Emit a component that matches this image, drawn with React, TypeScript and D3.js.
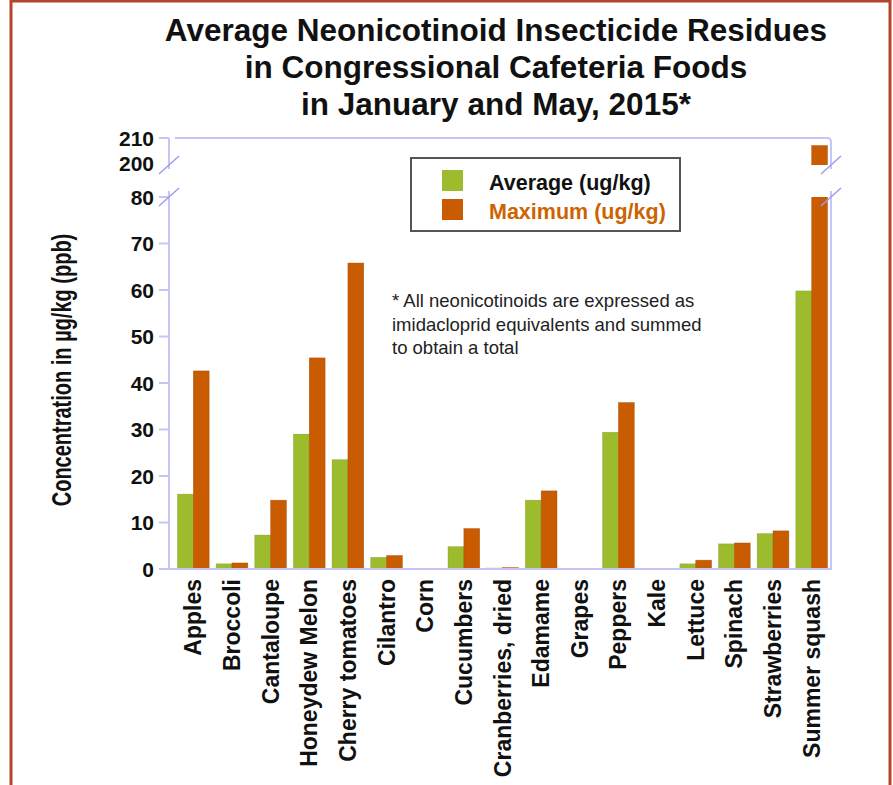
import { useEffect, useRef } from "react";
import * as d3 from "d3";

const CATEGORIES = [
  "Apples",
  "Broccoli",
  "Cantaloupe",
  "Honeydew Melon",
  "Cherry tomatoes",
  "Cilantro",
  "Corn",
  "Cucumbers",
  "Cranberries, dried",
  "Edamame",
  "Grapes",
  "Peppers",
  "Kale",
  "Lettuce",
  "Spinach",
  "Strawberries",
  "Summer squash",
];

const AVERAGE = [16.1, 1.1, 7.3, 29.0, 23.5, 2.5, 0, 4.8, 0.2, 14.8, 0, 29.4, 0, 1.1, 5.4, 7.6, 59.8];
const MAXIMUM = [42.6, 1.3, 14.8, 45.4, 65.8, 2.9, 0, 8.7, 0.3, 16.8, 0, 35.8, 0, 1.9, 5.6, 8.2, 207];

const LOWER_TICKS = [0, 10, 20, 30, 40, 50, 60, 70, 80];
const UPPER_TICKS = [200, 210];

const TITLE = [
  "Average Neonicotinoid Insecticide Residues",
  "in Congressional Cafeteria Foods",
  "in January and May, 2015*",
];
const NOTE = [
  "* All neonicotinoids are expressed as",
  "imidacloprid equivalents and summed",
  "to obtain a total",
];

const GREEN = "#9cbc2d";
const ORANGE = "#c95b00";
const AXIS = "#c6c6f4";
const SLASH = "#9d9df0";
const FONT = "'Liberation Sans', Arial, sans-serif";

export default function App() {
  const svgRef = useRef<SVGSVGElement>(null);

  useEffect(() => {
    if (!svgRef.current) return;
    const width = 893;
    const height = 785;
    const svg = d3.select(svgRef.current);
    svg.selectAll("*").remove();

    const left = 169;
    const right = 831;

    const x = d3.scaleBand<string>().domain(CATEGORIES).range([174, 831]).paddingInner(0.18).paddingOuter(0.09);
    const yLow = d3.scaleLinear().domain([0, 80]).range([569, 197]);
    const yHigh = d3.scaleLinear().domain([200, 210]).range([163, 138]);
    const lowTop = 197;
    const highBottom = 165;

    // outer frame
    svg.append("rect")
      .attr("x", 11).attr("y", 1).attr("width", 879).attr("height", height + 10)
      .attr("fill", "white").attr("stroke", "#b4442c").attr("stroke-width", 3);

    // title
    svg.append("g").selectAll("text").data(TITLE).join("text")
      .attr("x", 496).attr("y", (_, i) => 41 + i * 37)
      .attr("text-anchor", "middle")
      .attr("font-family", FONT).attr("font-weight", "bold").attr("font-size", 31.5)
      .attr("fill", "#111")
      .text((d) => d);

    const bw = x.bandwidth() / 2;

    // clip paths for the split axis
    const defs = svg.append("defs");
    defs.append("clipPath").attr("id", "clipLow").append("rect")
      .attr("x", left).attr("y", lowTop).attr("width", right - left).attr("height", 569 - lowTop);
    defs.append("clipPath").attr("id", "clipHigh").append("rect")
      .attr("x", left).attr("y", 138).attr("width", right - left).attr("height", highBottom - 138);

    const series = [
      { values: AVERAGE, color: GREEN, stroke: "#7f9a22", off: 0 },
      { values: MAXIMUM, color: ORANGE, stroke: "#9e4700", off: 1 },
    ];

    const lowG = svg.append("g").attr("clip-path", "url(#clipLow)");
    const highG = svg.append("g").attr("clip-path", "url(#clipHigh)");
    series.forEach((s) => {
      lowG.append("g").selectAll("rect").data(CATEGORIES).join("rect")
        .attr("x", (d) => x(d)! + s.off * bw)
        .attr("width", bw)
        .attr("y", (_, i) => yLow(Math.min(s.values[i], 85)))
        .attr("height", (_, i) => 569 - yLow(Math.min(s.values[i], 85)))
        .attr("fill", s.color).attr("stroke", s.stroke).attr("stroke-width", 0.6).attr("stroke-opacity", 0.6);
      highG.append("g").selectAll("rect").data(CATEGORIES.filter((_, i) => s.values[i] > 200)).join("rect")
        .attr("x", (d) => x(d)! + s.off * bw)
        .attr("width", bw)
        .attr("y", (d) => yHigh(s.values[CATEGORIES.indexOf(d)]))
        .attr("height", (d) => highBottom + 2 - yHigh(s.values[CATEGORIES.indexOf(d)]))
        .attr("fill", s.color).attr("stroke", s.stroke).attr("stroke-width", 0.6).attr("stroke-opacity", 0.6);
    });

    // axis lines
    const axisG = svg.append("g").attr("fill", "none").attr("stroke", AXIS).attr("stroke-width", 2);
    axisG.append("path").attr("d", `M${left},${lowTop - 6}V569H${right}V${lowTop - 6}`);
    axisG.append("path").attr("d", `M${left},${highBottom + 4}V${yHigh(210)}`);
    axisG.append("path").attr("d", `M${left + 6},${yHigh(210)}H${right - 4}Q${right},${yHigh(210)} ${right},${yHigh(210) + 4}V${highBottom + 4}`);

    // ticks
    axisG.selectAll("line.lt").data(LOWER_TICKS).join("line")
      .attr("x1", left - 10).attr("x2", left).attr("y1", (d) => yLow(d)).attr("y2", (d) => yLow(d));
    axisG.append("line").attr("x1", left - 10).attr("x2", left)
      .attr("y1", yHigh(210)).attr("y2", yHigh(210));

    // break slashes
    const slashes = [
      [left, highBottom],
      [right, highBottom],
      [left, lowTop],
      [right, lowTop],
    ];
    svg.append("g").selectAll("line").data(slashes).join("line")
      .attr("x1", (d) => d[0] - 10).attr("y1", (d) => d[1] + 9)
      .attr("x2", (d) => d[0] + 10).attr("y2", (d) => d[1] - 9)
      .attr("stroke", SLASH).attr("stroke-width", 1.5);

    // tick labels
    const tickText = svg.append("g")
      .attr("font-family", FONT).attr("font-weight", "bold").attr("font-size", 21)
      .attr("fill", "#111").attr("text-anchor", "end");
    tickText.selectAll("text.l").data(LOWER_TICKS).join("text")
      .attr("x", 154).attr("y", (d) => yLow(d)).attr("dy", "0.36em").text((d) => d);
    tickText.selectAll("text.h").data(UPPER_TICKS).enter().append("text")
      .attr("x", 154).attr("y", (d) => yHigh(d)).attr("dy", "0.36em").text((d) => d);

    // y axis title
    svg.append("text")
      .attr("transform", "translate(71,370) rotate(-90) scale(1,1.35)")
      .attr("text-anchor", "middle")
      .attr("font-family", FONT).attr("font-weight", "bold").attr("font-size", 20)
      .attr("fill", "#111")
      .text("Concentration in \u00b5g/kg (ppb)");

    // x labels
    svg.append("g").selectAll("text").data(CATEGORIES).join("text")
      .attr("transform", (d) => `translate(${x(d)! + x.bandwidth() / 2 + 8},579) rotate(-90)`)
      .attr("text-anchor", "end")
      .attr("font-family", FONT).attr("font-weight", "bold").attr("font-size", 23)
      .attr("fill", "#111")
      .text((d) => d);

    // legend
    const lg = svg.append("g");
    lg.append("rect").attr("x", 411).attr("y", 158).attr("width", 269).attr("height", 73)
      .attr("fill", "white").attr("stroke", "#555").attr("stroke-width", 2);
    const legendItems = [
      { label: "Average (ug/kg)", color: GREEN, text: "#111" },
      { label: "Maximum (ug/kg)", color: ORANGE, text: "#cc6400" },
    ];
    legendItems.forEach((it, i) => {
      lg.append("rect").attr("x", 442).attr("y", 170 + i * 29).attr("width", 21).attr("height", 21)
        .attr("fill", it.color);
      lg.append("text").attr("x", 489).attr("y", 182 + i * 29).attr("dy", "0.36em")
        .attr("font-family", FONT).attr("font-weight", "bold").attr("font-size", 21.5)
        .attr("fill", it.text).text(it.label);
    });

    // note
    svg.append("g").selectAll("text").data(NOTE).join("text")
      .attr("x", 392).attr("y", (_, i) => 307 + i * 23.5)
      .attr("font-family", FONT).attr("font-size", 18.5).attr("fill", "#222")
      .text((d) => d);

    svg.attr("width", width).attr("height", height);
  }, []);

  return (
    <svg
      ref={svgRef}
      width={893}
      height={785}
      style={{ position: "absolute", left: 0, top: 0, background: "white" }}
    />
  );
}
